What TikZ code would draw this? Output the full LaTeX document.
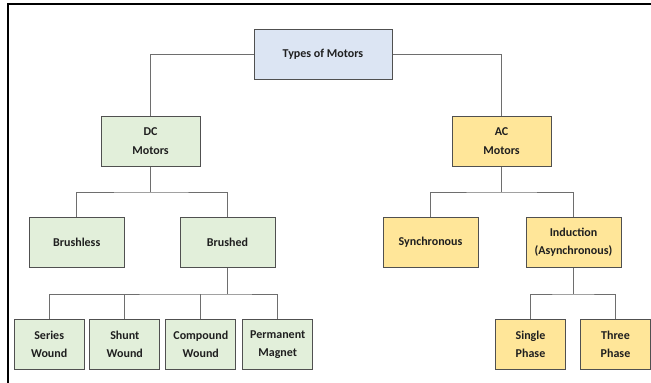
\documentclass[tikz,border=0pt]{standalone}
\usepackage{fontspec}
\setmainfont{Carlito}
\definecolor{topblue}{HTML}{DCE5F3}
\definecolor{dcgreen}{HTML}{E2EFDA}
\definecolor{acyellow}{HTML}{FFE699}
\definecolor{boxline}{HTML}{505050}
\definecolor{linkgray}{HTML}{6E6E6E}
\begin{document}
\begin{tikzpicture}[x=1pt,y=-1pt,
	box/.style={draw=boxline,line width=1pt,align=center,inner sep=0pt,
		font=\fontsize{12}{18.3}\selectfont\bfseries,text=black!88,minimum height=50pt},
	bigbox/.style={box,minimum width=95pt},
	smallbox/.style={box,minimum width=70pt},
	link/.style={linkgray,line width=0.9pt}]
		\useasboundingbox (0,0) rectangle (651,383);
		\draw[line width=2.4pt](8,384)--(8,4)--(651,4);
		
		\node[box,minimum width=138pt,fill=topblue] (types) at (323,54) {Types of Motors};
		
		\node[box,minimum width=99pt,fill=dcgreen] (dc) at (150.5,141) {DC\\Motors};
		\node[box,minimum width=99pt,fill=acyellow] (ac) at (501.5,141) {AC\\Motors};
		
		\node[bigbox,fill=dcgreen] (brushless) at (76.7,242.5) {Brushless};
		\node[bigbox,fill=dcgreen] (brushed) at (227.5,242.5) {Brushed};
		\node[bigbox,fill=acyellow] (sync) at (430.5,242.5) {Synchronous};
		\node[bigbox,fill=acyellow] (induction) at (573.5,242.5) {Induction\\(Asynchronous)};
		
		\node[smallbox,fill=dcgreen] (series) at (49.2,344.3) {Series\\Wound};
		\node[smallbox,fill=dcgreen] (shunt) at (124.8,344.3) {Shunt\\Wound};
		\node[smallbox,fill=dcgreen] (compound) at (200.8,344.3) {Compound\\Wound};
		\node[smallbox,fill=dcgreen] (permanent) at (277.7,344.3) {Permanent\\Magnet};
		\node[smallbox,fill=acyellow] (single) at (530.5,344.3) {Single\\Phase};
		\node[smallbox,fill=acyellow] (three) at (615.5,344.3) {Three\\Phase};
		
		% bus points
		\coordinate (dcbus) at ([yshift=-25.5pt]dc.south);
		\coordinate (acbus) at ([yshift=-25.5pt]ac.south);
		\coordinate (brbus) at ([yshift=-26pt]brushed.south);
		\coordinate (inbus) at ([yshift=-26pt]induction.south);
		
		\draw[link](types.west)-|(dc.north);
		\draw[link](types.east)-|(ac.north);
		
		\draw[link](dc)--(dcbus);
		\draw[link](brushless.north)|-(dcbus)-|(brushed.north);
		\draw[link](ac)--(acbus);
		\draw[link](sync.north)|-(acbus)-|(induction.north);
		
		\draw[link](brushed)--(brbus);
		\draw[link](series.north)|-(brbus)-|(permanent.north);
		\draw[link](shunt)--(shunt|-brbus);
		\draw[link](compound)--(compound|-brbus);
		
		\draw[link](induction)--(inbus);
		\draw[link](single.north)|-(inbus)-|(three.north);
	\end{tikzpicture}
\end{document}
